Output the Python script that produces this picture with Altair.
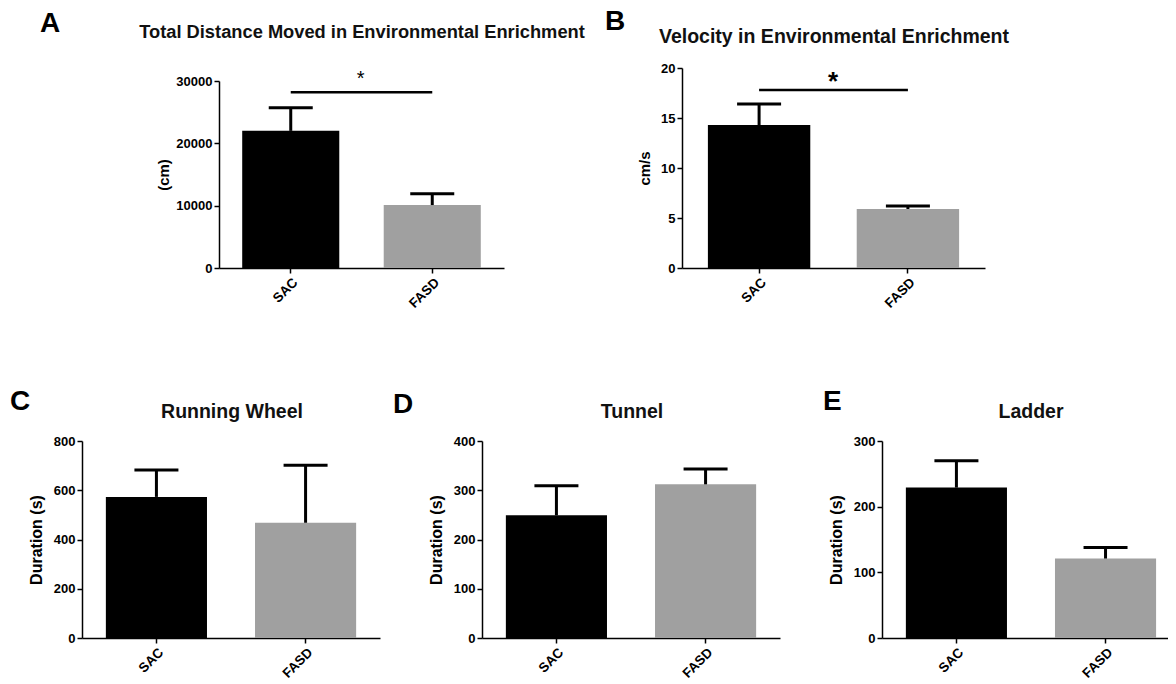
import altair as alt
import pandas as pd

FONT = "Liberation Sans"

groups = ["SAC", "FASD"]
bar_colors = ["#000000", "#a0a0a0"]

letters = ["A", "B", "C", "D", "E"]
titles = [
    "Total Distance Moved in Environmental Enrichment",
    "Velocity in Environmental Enrichment",
    "Running Wheel",
    "Tunnel",
    "Ladder",
]
y_titles = ["(cm)", "cm/s", "Duration (s)", "Duration (s)", "Duration (s)"]

# means and SEM
distance_mean = [22000, 10100]
distance_sem = [3700, 1800]
velocity_mean = [14.3, 5.9]
velocity_sem = [2.1, 0.3]
wheel_mean = [573, 468]
wheel_sem = [109, 234]
tunnel_mean = [249, 312]
tunnel_sem = [60, 31]
ladder_mean = [229, 121]
ladder_sem = [41, 17]

ticks_A = [0, 10000, 20000, 30000]
ticks_B = [0, 5, 10, 15, 20]
ticks_C = [0, 200, 400, 600, 800]
ticks_D = [0, 100, 200, 300, 400]
ticks_E = [0, 100, 200, 300]

sig_A = 28200
sig_B = 17.8


def panel(letter, title, ytitle, means, sems, ticks, width, height,
          xscale_kw, yscale_kw, title_pos, title_size, letter_pos,
          y_offset=0, ytitle_size=16, ytitle_pad=9, sig=None):
    df = pd.DataFrame({
        "group": groups,
        "mean": means,
        "upper": [m + s for m, s in zip(means, sems)],
    })
    xs = alt.Scale(domain=groups, **xscale_kw)
    ys = alt.Scale(domain=[ticks[0], ticks[-1]], nice=False, zero=True, **yscale_kw)
    xaxis = alt.Axis(
        title=None, labelAngle=-45, labelFont=FONT, labelFontSize=13.5,
        labelFontWeight="bold", labelColor="black", domainColor="black",
        domainWidth=1.5, tickColor="black", tickWidth=1.5, tickSize=5,
        labelPadding=2, grid=False,
    )
    yaxis = alt.Axis(
        title=ytitle, values=ticks, format="d", offset=y_offset,
        labelFont=FONT, labelFontSize=13, labelFontWeight="bold",
        labelColor="black", domainColor="black", domainWidth=1.5,
        tickColor="black", tickWidth=1.5, tickSize=5, labelPadding=2,
        titleFont=FONT, titleFontSize=ytitle_size, titleFontWeight="bold",
        titleColor="black", titlePadding=ytitle_pad, grid=False,
    )
    X = alt.X("group:N", scale=xs, axis=xaxis, sort=groups)
    base = alt.Chart(df)
    bars = base.mark_bar().encode(
        x=X,
        y=alt.Y("mean:Q", scale=ys, axis=yaxis),
        color=alt.Color("group:N", scale=alt.Scale(domain=groups, range=bar_colors), legend=None),
    )
    stems = base.mark_rule(color="black", strokeWidth=3).encode(
        x=X, y=alt.Y("mean:Q", scale=ys, axis=yaxis), y2="upper:Q"
    )
    caps = base.mark_tick(color="black", size=44, thickness=3, opacity=1).encode(
        x=X, y=alt.Y("upper:Q", scale=ys, axis=yaxis)
    )
    layers = [bars, stems, caps]
    if sig is not None:
        value, star_size, star_weight, star_dx, star_dy = sig
        sdf = pd.DataFrame({"group": ["SAC"], "group2": ["FASD"], "y": [value], "star": ["*"]})
        rule = alt.Chart(sdf).mark_rule(color="black", strokeWidth=2.5).encode(
            x=X, x2="group2:N", y=alt.Y("y:Q", scale=ys, axis=yaxis)
        )
        star = alt.Chart(sdf).mark_text(
            font=FONT, fontSize=star_size, fontWeight=star_weight, color="black",
            align="center", baseline="alphabetic", dx=star_dx, dy=star_dy,
        ).encode(x=X, y=alt.Y("y:Q", scale=ys, axis=yaxis), text="star:N")
        layers += [rule, star]
    label_df = pd.DataFrame({"letter": [letter], "title": [title]})
    letter_layer = alt.Chart(label_df).mark_text(
        font=FONT, fontSize=28, fontWeight="bold", align="left", baseline="top", color="black"
    ).encode(text="letter:N", x=alt.value(letter_pos[0]), y=alt.value(letter_pos[1]))
    title_layer = alt.Chart(label_df).mark_text(
        font=FONT, fontSize=title_size, fontWeight="bold", align="center",
        baseline="middle", color="#111111"
    ).encode(text="title:N", x=alt.value(title_pos[0]), y=alt.value(title_pos[1]))
    layers += [letter_layer, title_layer]
    return alt.layer(*layers).properties(width=width, height=height)


# grid columns start at x = 82, 482, 882 (page px); rows at y = 68, 441
A = panel(letters[0], titles[0], y_titles[0], distance_mean, distance_sem, ticks_A,
          298, 200,
          dict(range=[137, 422], paddingInner=0.314, paddingOuter=0.164),
          dict(range=[200, 13]),
          title_pos=(280, -35), title_size=18.3, letter_pos=(-42, -58),
          y_offset=-137, ytitle_size=15, ytitle_pad=4,
          sig=(sig_A, 20, "normal", 70, -7))
B = panel(letters[1], titles[1], y_titles[1], velocity_mean, velocity_sem, ticks_B,
          298, 200,
          dict(range=[200, 503], paddingInner=0.312, paddingOuter=0.174),
          dict(),
          title_pos=(352, -31), title_size=19.5, letter_pos=(123, -60),
          y_offset=-200, ytitle_size=15, ytitle_pad=8,
          sig=(sig_B, 26, "bold", 74, 0))
spacer = alt.Chart(pd.DataFrame({"v": [0]})).mark_point(opacity=0).encode(
    x=alt.X("v:Q", axis=None), y=alt.Y("v:Q", axis=None)
).properties(width=1, height=200)
C = panel(letters[2], titles[2], y_titles[2], wheel_mean, wheel_sem, ticks_C,
          298, 197,
          dict(paddingInner=0.322, paddingOuter=0.16),
          dict(),
          title_pos=(150, -29), title_size=19.5, letter_pos=(-72, -53))
D = panel(letters[3], titles[3], y_titles[3], tunnel_mean, tunnel_sem, ticks_D,
          298, 197,
          dict(paddingInner=0.322, paddingOuter=0.16),
          dict(),
          title_pos=(150, -29), title_size=19.5, letter_pos=(-89, -50))
E = panel(letters[4], titles[4], y_titles[4], ladder_mean, ladder_sem, ticks_E,
          286, 197,
          dict(paddingInner=0.322, paddingOuter=0.12, align=0.667),
          dict(),
          title_pos=(149, -29), title_size=19.5, letter_pos=(-59, -53))

chart = alt.concat(
    A, B, spacer, C, D, E,
    columns=3, bounds="flush", align="all",
    spacing={"row": 173, "column": 102},
).properties(
    padding={"left": 2, "top": 0, "right": 0, "bottom": 0},
).configure_view(stroke=None)

chart.save("out.html", embed_options={"renderer": "svg", "actions": False})
